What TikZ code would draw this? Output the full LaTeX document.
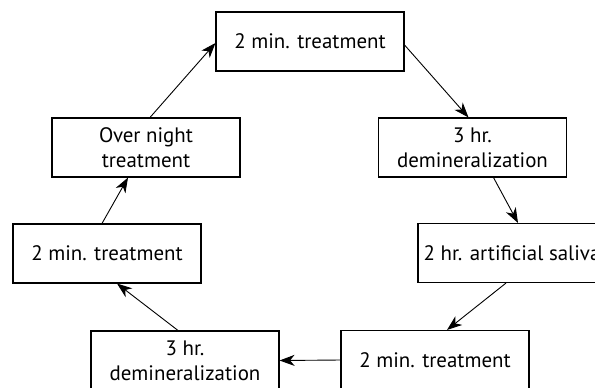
\documentclass[tikz,border=0pt]{standalone}
\usepackage{fontspec}
\setmainfont{PT Sans}
\usetikzlibrary{arrows.meta}

\begin{document}
\begin{tikzpicture}[x=1bp, y=-1bp, line width=0.9bp,
    step node/.style={draw, line width=1.1bp, minimum width=188bp, minimum height=59bp, inner sep=0pt, align=center, font=\fontsize{21}{25}\selectfont},
    cycle arrow/.style={-{Stealth[length=15bp, width=11bp, inset=4.5bp]}}]
  \useasboundingbox (0,0) rectangle (595,387);
  \clip (0,0) rectangle (595,387);

  \node[step node] (top) at (310,41.5) {2 min. treatment};
  \node[step node] (demin1) at (472.5,147.5) {3 hr.\\demineralization};
  \node[step node] (saliva) at (512,253) {2 hr. artificial saliva};
  \node[step node] (treat2) at (435,360) {2 min. treatment};
  \node[step node] (demin2) at (185,360.5) {3 hr.\\demineralization};
  \node[step node] (treat3) at (107,253.5) {2 min. treatment};
  \node[step node] (night) at (146,147.5) {Over night\\treatment};

  \draw[cycle arrow] ([xshift=4bp]night.north) -- ([yshift=-1.5bp]top.west);
  \draw[cycle arrow] ([yshift=-3.5bp]top.east) -- ([xshift=-4bp]demin1.north);
  \draw[cycle arrow] ([xshift=21bp]demin1.south) -- ([xshift=6bp]saliva.north);
  \draw[cycle arrow] ([xshift=-6bp]saliva.south) -- ([xshift=12bp]treat2.north);
  \draw[cycle arrow] (treat2.west) -- (demin2.east);
  \draw[cycle arrow] ([xshift=-7bp]demin2.north) -- ([xshift=10bp]treat3.south);
  \draw[cycle arrow] ([xshift=-5bp]treat3.north) -- ([xshift=-18bp]night.south);
\end{tikzpicture}
\end{document}
